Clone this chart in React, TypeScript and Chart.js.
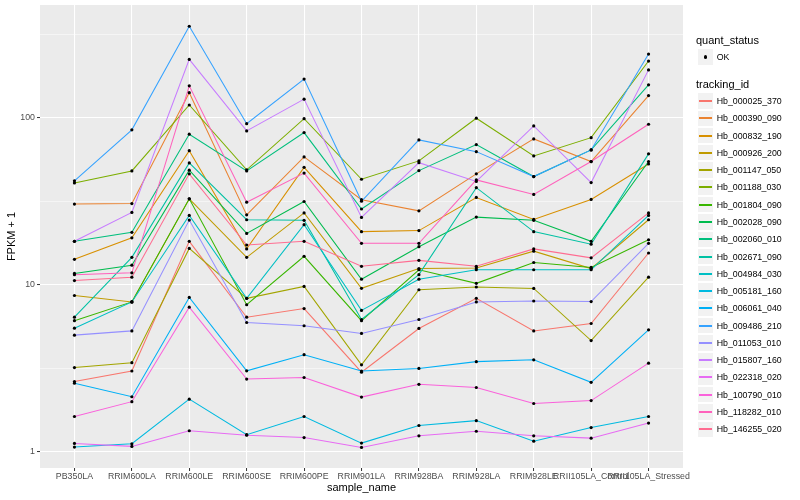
import React, { useEffect, useRef } from "react";
import { Chart, registerables } from "chart.js";

Chart.register(...registerables);

const CATEGORIES = [
  "PB350LA",
  "RRIM600LA",
  "RRIM600LE",
  "RRIM600SE",
  "RRIM600PE",
  "RRIM901LA",
  "RRIM928BA",
  "RRIM928LA",
  "RRIM928LE",
  "RRII105LA_Control",
  "RRII105LA_Stressed",
];

const TRACKING_IDS = [
  "Hb_000025_370",
  "Hb_000390_090",
  "Hb_000832_190",
  "Hb_000926_200",
  "Hb_001147_050",
  "Hb_001188_030",
  "Hb_001804_090",
  "Hb_002028_090",
  "Hb_002060_010",
  "Hb_002671_090",
  "Hb_004984_030",
  "Hb_005181_160",
  "Hb_006061_040",
  "Hb_009486_210",
  "Hb_011053_010",
  "Hb_015807_160",
  "Hb_022318_020",
  "Hb_100790_010",
  "Hb_118282_010",
  "Hb_146255_020",
];

// FPKM + 1 per sample_name, in CATEGORIES order
const HB_000025_370 = [2.64, 3.05, 18.2, 6.4, 7.21, 3.0, 5.48, 8.3, 5.3, 5.87, 15.5];
const HB_000390_090 = [30.4, 30.6, 141, 26.2, 58.2, 32.3, 27.7, 46.1, 74.6, 54.6, 135.5];
const HB_000832_190 = [14.2, 19.1, 63.4, 16.4, 50.4, 20.8, 21.1, 33.3, 24.6, 32.4, 52.8];
const HB_000926_200 = [8.63, 7.9, 32.7, 14.6, 26.9, 9.53, 12.5, 12.6, 15.9, 12.5, 24.5];
const HB_001147_050 = [3.2, 3.42, 16.5, 8.3, 9.78, 3.32, 9.34, 9.7, 9.51, 4.64, 11.1];
const HB_001188_030 = [40.7, 48, 119, 48.7, 98.6, 42.8, 55.1, 99.2, 59, 75.9, 218];
const HB_001804_090 = [6.1, 7.9, 32.7, 7.6, 14.8, 6.1, 12.3, 10.2, 13.6, 12.7, 18.6];
const HB_002028_090 = [11.7, 13.1, 48.5, 20.3, 31.5, 10.8, 16.9, 25.4, 24.3, 18.2, 54.6];
const HB_002060_010 = [18.2, 20.6, 79.6, 48, 81.4, 28.4, 48.2, 69, 44.4, 64.1, 157];
const HB_002671_090 = [6.4, 14.6, 53.6, 24.5, 24.3, 6.2, 11.5, 38.1, 20.8, 17.5, 60.7];
const HB_004984_030 = [5.5, 7.9, 26.0, 8.3, 22.9, 7.03, 10.8, 12.3, 12.3, 12.3, 26.0];
const HB_005181_160 = [1.07, 1.12, 2.07, 1.27, 1.63, 1.13, 1.44, 1.54, 1.16, 1.4, 1.63];
const HB_006061_040 = [2.58, 2.14, 8.4, 3.06, 3.82, 3.05, 3.16, 3.47, 3.56, 2.61, 5.38];
const HB_009486_210 = [41.9, 84.5, 352, 92, 170, 31.6, 73.6, 62.6, 44.4, 64.1, 240];
const HB_011053_010 = [5.0, 5.3, 24.4, 5.95, 5.69, 5.12, 6.2, 7.9, 8.0, 7.94, 17.7];
const HB_015807_160 = [18.2, 27.1, 223, 83.3, 129, 25.3, 53.8, 41.5, 89.2, 40.9, 193];
const HB_022318_020 = [1.125, 1.08, 1.34, 1.26, 1.22, 1.065, 1.25, 1.33, 1.25, 1.21, 1.49];
const HB_100790_010 = [1.63, 2.0, 7.35, 2.73, 2.79, 2.13, 2.54, 2.43, 1.95, 2.03, 3.4];
const HB_118282_010 = [11.5, 11.8, 155, 31.2, 46.6, 17.7, 17.7, 42.4, 34.7, 54.6, 91.3];
const HB_146255_020 = [10.6, 11.1, 46.1, 17.3, 18.2, 12.9, 14.0, 12.9, 16.4, 14.5, 26.9];

const SERIES = [
  HB_000025_370, HB_000390_090, HB_000832_190, HB_000926_200, HB_001147_050,
  HB_001188_030, HB_001804_090, HB_002028_090, HB_002060_010, HB_002671_090,
  HB_004984_030, HB_005181_160, HB_006061_040, HB_009486_210, HB_011053_010,
  HB_015807_160, HB_022318_020, HB_100790_010, HB_118282_010, HB_146255_020,
];

const QUANT_STATUS = ["OK"];

const Y_MAJOR_TICKS = [1, 10, 100];
const Y_MINOR_TICKS = [3.1623, 31.623, 316.23];

// styling (ggplot hue palette, 20 levels)
const COLORS = [
  "#F8766D", "#EA8331", "#D89000", "#C09B00", "#A3A500",
  "#7CAE00", "#39B600", "#00BB4E", "#00BF7D", "#00C1A3",
  "#00BFC4", "#00BAE0", "#00B0F6", "#35A2FF", "#9590FF",
  "#C77CFF", "#E76BF3", "#FA62DB", "#FF62BC", "#FF6C91",
];

const FONT = '"Liberation Sans", Arial, Helvetica, sans-serif';

const panelBackground = {
  id: "panelBackground",
  beforeDraw(chart: any) {
    const { ctx, chartArea } = chart;
    ctx.save();
    ctx.fillStyle = "#EBEBEB";
    ctx.fillRect(chartArea.left, chartArea.top, chartArea.width, chartArea.height);
    ctx.restore();
  },
};

const isMajorY = (v: number) => Y_MAJOR_TICKS.some((m) => Math.abs(m - v) < 1e-6);

export default function App() {
  const canvasRef = useRef<HTMLCanvasElement | null>(null);

  useEffect(() => {
    const canvas = canvasRef.current;
    if (!canvas) return;
    const n = SERIES.length;
    const lineSets = SERIES.map((vals, i) => ({
      label: TRACKING_IDS[i],
      data: vals.map((v, j) => ({ x: j, y: v })),
      borderColor: COLORS[i],
      backgroundColor: COLORS[i],
      borderWidth: 1.05,
      pointRadius: 0,
      pointHoverRadius: 0,
      fill: false,
      tension: 0,
      order: n - i + 1,
    }));
    const pointSets = SERIES.map((vals, i) => ({
      label: TRACKING_IDS[i] + " " + QUANT_STATUS[0],
      data: vals.map((v, j) => ({ x: j, y: v })),
      showLine: false,
      borderWidth: 0,
      pointRadius: 1.6,
      pointBorderWidth: 0,
      pointBackgroundColor: "#000000",
      pointBorderColor: "#000000",
      order: 0,
    }));

    const chart = new Chart(canvas, {
      type: "line",
      data: { datasets: [...lineSets, ...pointSets] as any },
      plugins: [panelBackground],
      options: {
        animation: false,
        responsive: false,
        events: [],
        layout: { padding: { left: 0, right: 117, top: 5, bottom: 0 } },
        plugins: {
          legend: { display: false },
          tooltip: { enabled: false },
        },
        scales: {
          x: {
            type: "linear",
            min: -0.6,
            max: 10.6,
            bounds: "data",
            afterBuildTicks: (axis: any) => {
              axis.ticks = CATEGORIES.map((_, i) => ({ value: i }));
            },
            afterFit: (axis: any) => {
              axis.height = 32;
              axis.paddingLeft = 0;
              axis.paddingRight = 0;
            },
            ticks: {
              autoSkip: false,
              maxRotation: 0,
              minRotation: 0,
              padding: 0.5,
              color: "#4D4D4D",
              font: { family: FONT, size: 8.8 },
              callback: (v: any) => CATEGORIES[Math.round(Number(v))] ?? "",
            },
            grid: {
              color: "#FFFFFF",
              lineWidth: 1.07,
              drawTicks: true,
              tickLength: 3,
              tickColor: "#333333",
              tickWidth: 1,
            },
            border: { display: false },
            title: {
              display: true,
              text: "sample_name",
              color: "#000000",
              font: { family: FONT, size: 11 },
              padding: { top: 0, bottom: 5.4 },
            },
          },
          y: {
            type: "logarithmic",
            min: 0.802,
            max: 471.7,
            bounds: "data",
            afterBuildTicks: (axis: any) => {
              axis.ticks = [...Y_MAJOR_TICKS, ...Y_MINOR_TICKS]
                .sort((a, b) => a - b)
                .map((v) => ({ value: v, major: isMajorY(v) }));
            },
            afterFit: (axis: any) => {
              axis.width = 40;
              axis.paddingTop = 0;
              axis.paddingBottom = 0;
            },
            ticks: {
              autoSkip: false,
              padding: 2,
              color: "#4D4D4D",
              font: { family: FONT, size: 8.8 },
              callback: (v: any) => (isMajorY(Number(v)) ? String(Math.round(Number(v))) : ""),
            },
            grid: {
              color: "#FFFFFF",
              lineWidth: (ctx: any) => (ctx.tick && isMajorY(ctx.tick.value) ? 1.07 : 0.53),
              drawTicks: true,
              tickLength: 3,
              tickColor: (ctx: any) =>
                ctx.tick && isMajorY(ctx.tick.value) ? "#333333" : "rgba(0,0,0,0)",
              tickWidth: 1,
            },
            border: { display: false },
            title: {
              display: true,
              text: "FPKM + 1",
              color: "#000000",
              font: { family: FONT, size: 11 },
              padding: { top: 5.4, bottom: 0 },
            },
          },
        },
      } as any,
    });
    return () => chart.destroy();
  }, []);

  const rowH = 17.28;
  const keyLeft = 696.5;
  const textLeft = 716.7;

  return (
    <div
      style={{
        position: "absolute",
        left: 0,
        top: 0,
        width: 800,
        height: 500,
        background: "#FFFFFF",
        fontFamily: FONT,
      }}
    >
      <canvas ref={canvasRef} width={800} height={500} style={{ position: "absolute", left: 0, top: 0 }} />
      <div style={{ position: "absolute", left: 696, top: 34.2, fontSize: 11, lineHeight: "13px", color: "#000", whiteSpace: "nowrap" }}>
        quant_status
      </div>
      {QUANT_STATUS.map((s, i) => {
        const cy = 57 + i * rowH;
        return (
          <React.Fragment key={s}>
            <div
              style={{
                position: "absolute",
                left: keyLeft,
                top: cy - rowH / 2,
                width: rowH,
                height: rowH,
                boxSizing: "border-box",
                border: "1px solid #FFFFFF",
                background: "#F2F2F2",
              }}
            />
            <div
              style={{
                position: "absolute",
                left: keyLeft + rowH / 2 - 1.6,
                top: cy - 1.6,
                width: 3.2,
                height: 3.2,
                borderRadius: "50%",
                background: "#000",
              }}
            />
            <div style={{ position: "absolute", left: textLeft, top: cy - 5, fontSize: 8.8, lineHeight: "10px", color: "#000", whiteSpace: "nowrap" }}>
              {s}
            </div>
          </React.Fragment>
        );
      })}
      <div style={{ position: "absolute", left: 696, top: 77.8, fontSize: 11, lineHeight: "13px", color: "#000", whiteSpace: "nowrap" }}>
        tracking_id
      </div>
      {TRACKING_IDS.map((id, i) => {
        const cy = 101 + i * rowH;
        return (
          <React.Fragment key={id}>
            <div
              style={{
                position: "absolute",
                left: keyLeft,
                top: cy - rowH / 2,
                width: rowH,
                height: rowH,
                boxSizing: "border-box",
                border: "1px solid #FFFFFF",
                background: "#F2F2F2",
              }}
            />
            <div
              style={{
                position: "absolute",
                left: Math.round(keyLeft + 2),
                top: Math.round(cy) - 1,
                width: 13,
                height: 2,
                background: COLORS[i],
              }}
            />
            <div style={{ position: "absolute", left: textLeft, top: cy - 5, fontSize: 8.8, lineHeight: "10px", color: "#000", whiteSpace: "nowrap" }}>
              {id}
            </div>
          </React.Fragment>
        );
      })}
    </div>
  );
}
